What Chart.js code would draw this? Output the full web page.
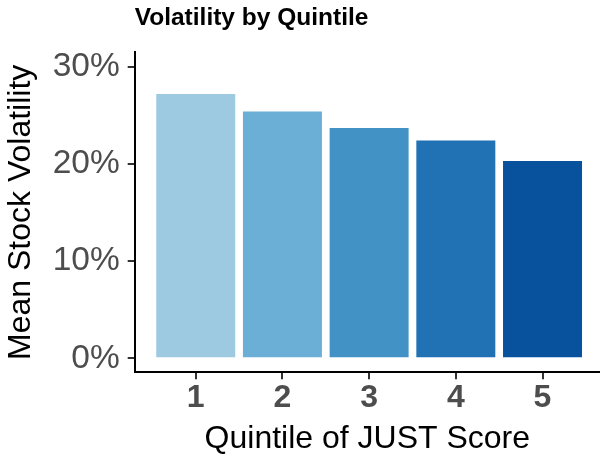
<!DOCTYPE html>
<html>
<head>
<meta charset="utf-8">
<script src="https://cdn.jsdelivr.net/npm/chart.js@4/dist/chart.umd.min.js"></script>
<style>
    body { margin: 0; background: #fff; }
    #canvas { display: block; }
</style>
</head>
<body>
<canvas id="canvas" width="600" height="457"></canvas>
<script>
// quintiles of the JUST score and mean stock volatility (%)
var quintiles = [1, 2, 3, 4, 5];
var volatility = [27.2, 25.4, 23.7, 22.4, 20.3];
var barColors = ['#9ECAE1', '#6BAED6', '#4292C6', '#2171B5', '#08519C'];
var yTicks = [0, 10, 20, 30];

var fontFamily = '"Liberation Sans", Arial, Helvetica, sans-serif';

var points = [];
for (var i = 0; i < quintiles.length; i++) {
    points.push({x: quintiles[i], y: volatility[i]});
}

const CHART = document.getElementById("canvas");
var barChart = new Chart(CHART, {
    type: 'bar',
    data: {
        datasets: [{
            data: points,
            backgroundColor: barColors,
            borderWidth: 0,
            categoryPercentage: 1.0,
            barPercentage: 0.911
        }]
    },
    options: {
        responsive: false,
        animation: false,
        layout: {padding: 0},
        plugins: {
            legend: {display: false},
            tooltip: {enabled: false},
            title: {
                display: true,
                text: 'Volatility by Quintile',
                align: 'start',
                fullSize: false,
                color: '#000',
                font: {family: fontFamily, size: 24.5, weight: 'bold', lineHeight: 1.2},
                padding: {top: 4.0, bottom: 18.9}
            }
        },
        scales: {
            x: {
                type: 'linear',
                offset: false,
                min: 0.296,
                max: 5.663,
                afterFit: function (scale) {
                    scale.height = 84.7;
                },
                afterBuildTicks: function (scale) {
                    scale.ticks = quintiles.map(function (q) { return {value: q}; });
                },
                border: {display: true, color: '#000', width: 2},
                grid: {
                    offset: false,
                    drawOnChartArea: false,
                    drawTicks: true,
                    tickLength: 7,
                    color: '#333333',
                    lineWidth: 2
                },
                ticks: {
                    color: '#4D4D4D',
                    padding: 0,
                    autoSkip: false,
                    maxRotation: 0,
                    font: {family: fontFamily, size: 32, weight: 'bold'},
                    callback: function (value) { return String(value); }
                },
                title: {
                    display: true,
                    text: 'Quintile of JUST Score',
                    color: '#000',
                    font: {family: fontFamily, size: 32, lineHeight: 1.0},
                    padding: {top: 0, bottom: 2}
                }
            },
            y: {
                min: -1.44,
                max: 31.48,
                afterFit: function (scale) {
                    scale.width = 134.7;
                },
                afterBuildTicks: function (scale) {
                    scale.ticks = yTicks.map(function (v) { return {value: v}; });
                },
                border: {display: true, color: '#000', width: 2},
                grid: {
                    drawOnChartArea: false,
                    drawTicks: true,
                    tickLength: 7,
                    color: '#333333',
                    lineWidth: 2
                },
                ticks: {
                    color: '#4D4D4D',
                    padding: 8,
                    font: {family: fontFamily, size: 33.5},
                    callback: function (value) { return value + '%'; }
                },
                title: {
                    display: true,
                    text: 'Mean Stock Volatility',
                    color: '#000',
                    font: {family: fontFamily, size: 32, lineHeight: 1.2},
                    padding: {top: 2.3, bottom: 0}
                }
            }
        }
    }
});
</script>
</body>
</html>
